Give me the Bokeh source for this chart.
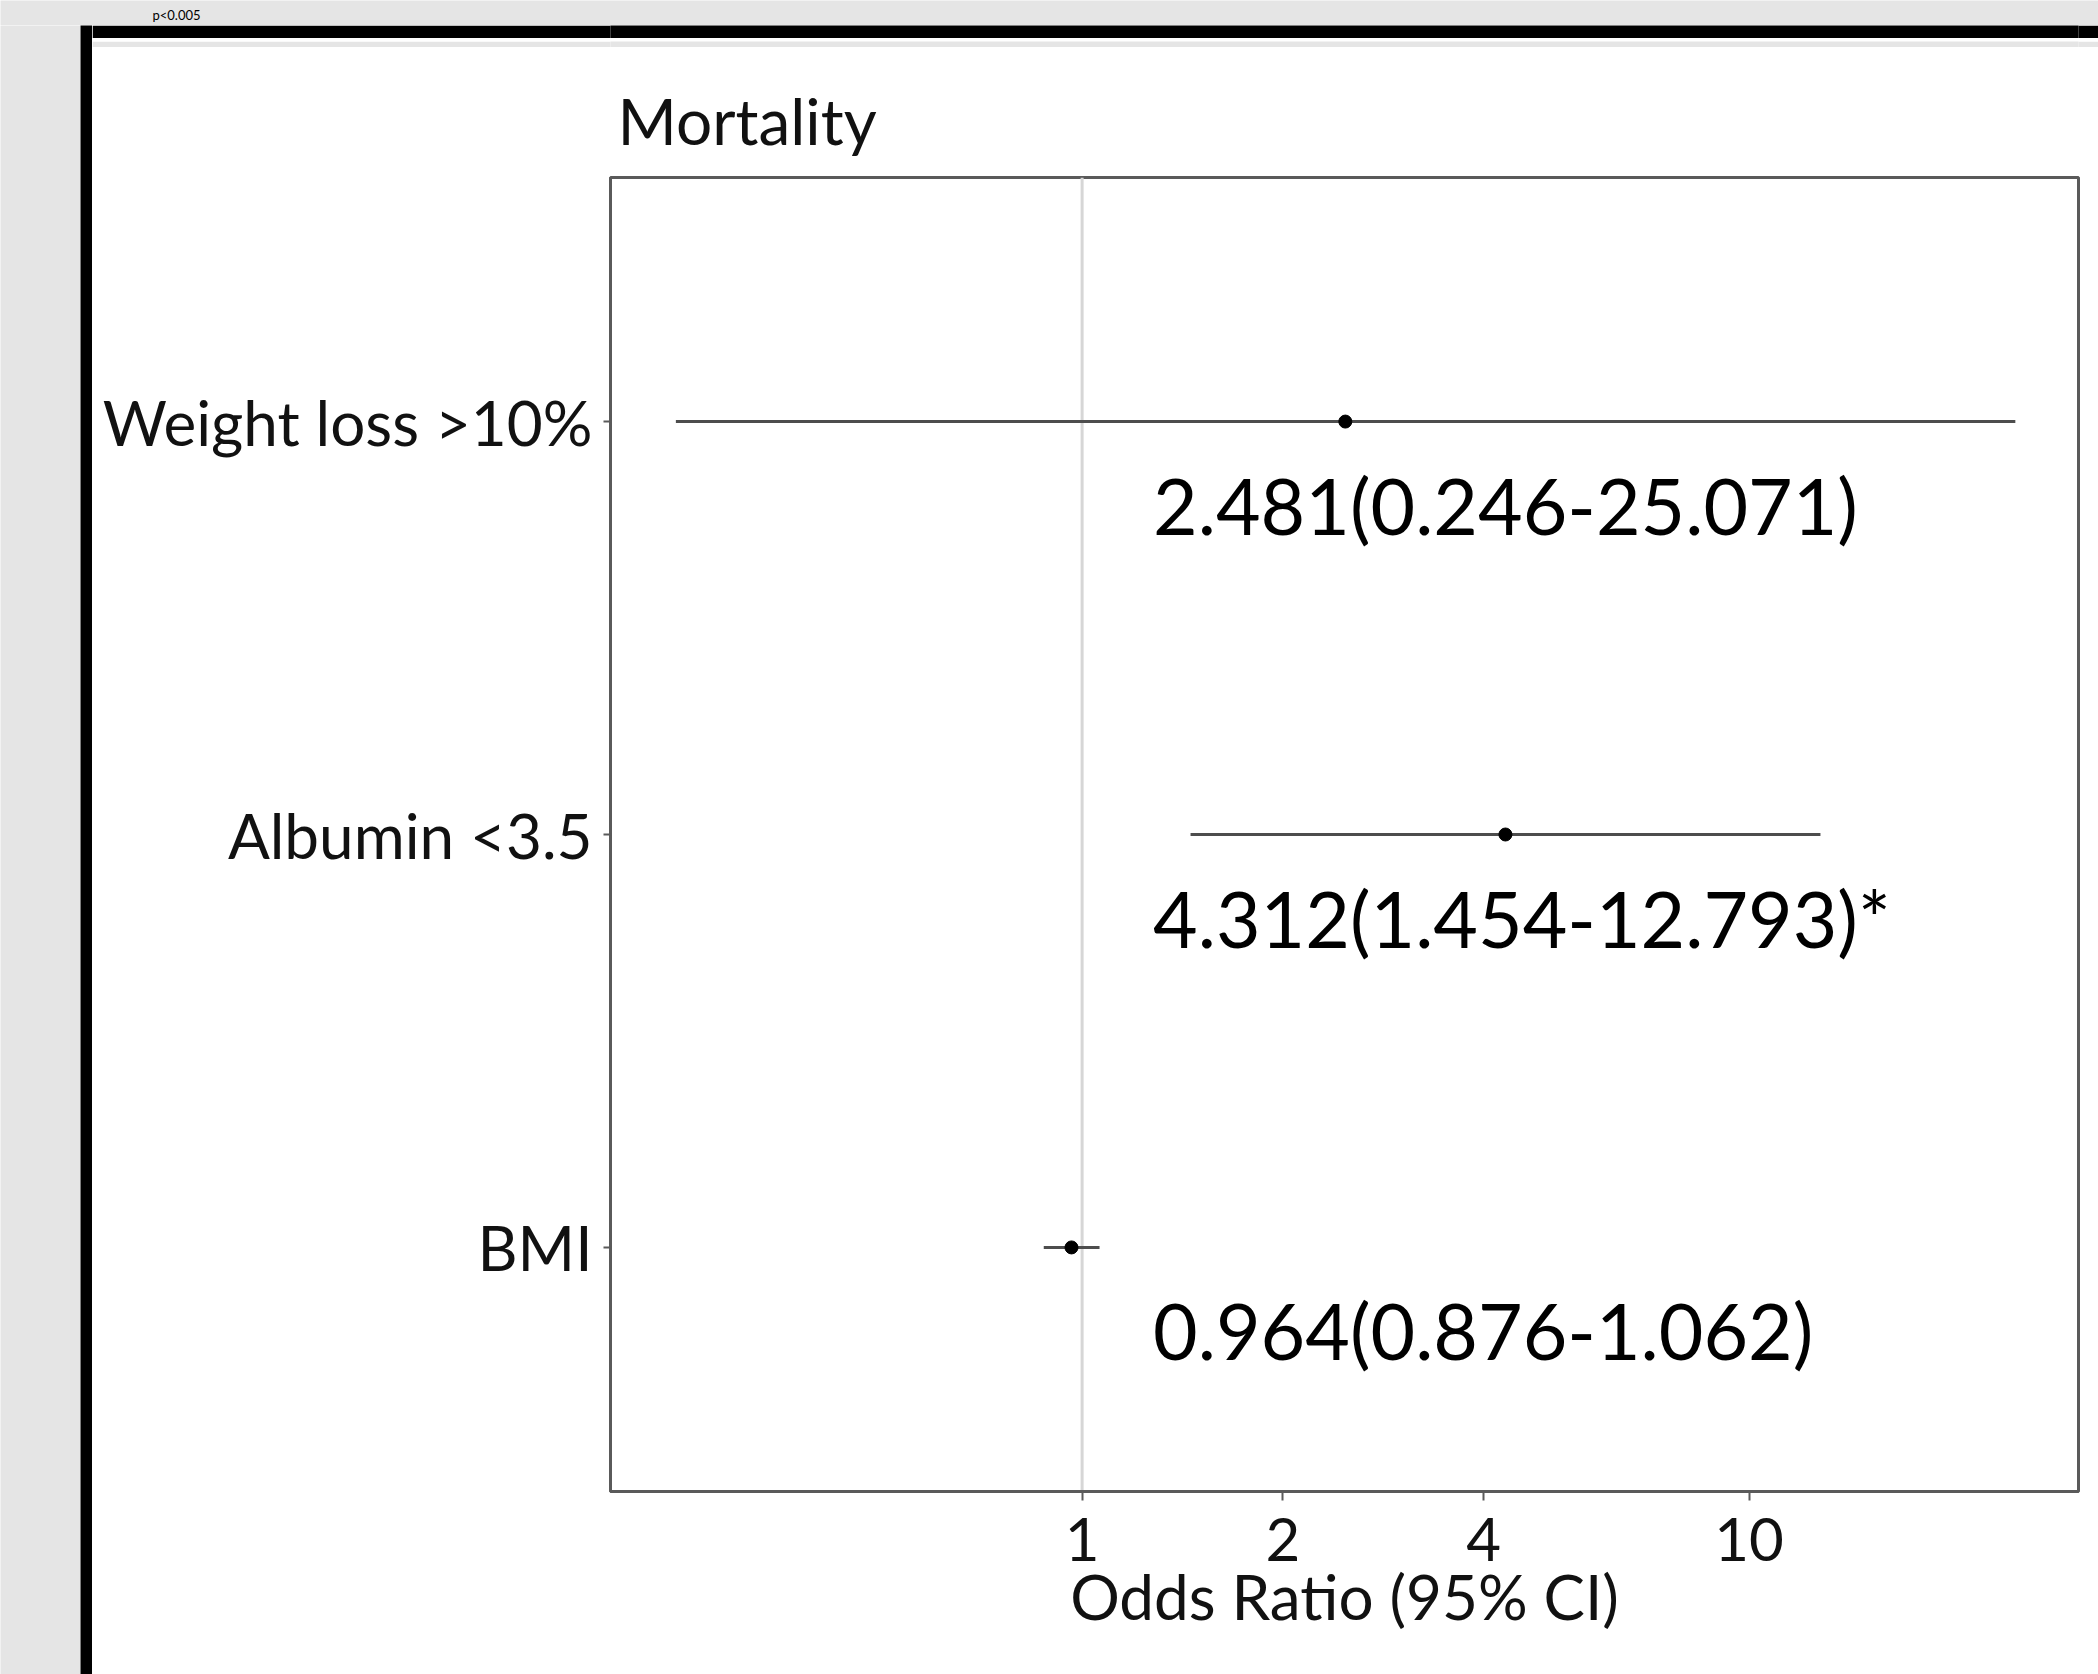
from bokeh.plotting import figure
from bokeh.layouts import column, row
from bokeh.models import (Range1d, FactorRange, FixedTicker, NumeralTickFormatter,
                          Span, Label, ColumnDataSource)
from bokeh.core.properties import value
from bokeh.embed import file_html
from bokeh.resources import INLINE

# ---------------- data ----------------
labels = ["Weight loss >10%", "Albumin <3.5", "BMI"]
odds_ratio = [2.481, 4.312, 0.964]
ci_low = [0.246, 1.454, 0.876]
ci_high = [25.071, 12.793, 1.062]
annotations = ["2.481(0.246-25.071)", "4.312(1.454-12.793)*", "0.964(0.876-1.062)"]
tick_values = [1, 2, 4, 10]
null_value = 1
panel_title = "Mortality"
x_label = "Odds Ratio (95% CI)"
header_text = "p<0.005"

GREY = "#e5e5e5"
FONT = "Lato"


def solid(w, h, color, xr=(0, 1), yr=(0, 1)):
    f = figure(width=w, height=h, x_range=Range1d(*xr), y_range=Range1d(*yr),
               min_border=0, toolbar_location=None, output_backend="svg",
               x_axis_location=None, y_axis_location=None, title=None)
    f.background_fill_color = color
    f.border_fill_color = color
    f.outline_line_color = None
    f.xgrid.visible = False
    f.ygrid.visible = False
    return f


# ---------------- slide decoration ----------------
grey_top = solid(2098, 25, GREY, (0, 2098), (0, 25))
grey_top.add_layout(Label(x=152, y=11, text=header_text, text_font=FONT,
                          text_font_size="13px", text_baseline="alphabetic",
                          text_color="black"))
grey_left = solid(80, 1649, GREY)
black_bar = solid(12, 1649, "black")
black_band = solid(2006, 13, "black")
grey_strip = solid(2006, 9, GREY)

# ---------------- main forest plot ----------------
src = ColumnDataSource(dict(label=labels, orv=odds_ratio, lo=ci_low, hi=ci_high,
                            txt=annotations, anchor=[null_value] * len(labels)))

p = figure(width=2006, height=1627, x_axis_type="log",
           x_range=Range1d(0.1963, 31.18),
           y_range=FactorRange(factors=labels[::-1], range_padding=0.0607),
           min_border_left=518, min_border_right=20, min_border_top=130, min_border_bottom=183,
           toolbar_location=None, output_backend="svg", title=panel_title)
p.background_fill_color = "white"
p.border_fill_color = "white"
p.outline_line_color = "#5a5a5a"
p.outline_line_width = 3
p.xgrid.visible = False
p.ygrid.visible = False

p.title.text_font = FONT
p.title.text_font_size = "64px"
p.title.text_font_style = "normal"
p.title.text_color = "#111111"
p.title.align = "left"
p.title.offset = 7
p.title.standoff = 38

p.add_layout(Span(location=null_value, dimension="height", line_color="#d6d6d6",
                  line_width=3, level="underlay"))

p.segment(x0="lo", y0="label", x1="hi", y1="label", source=src,
          line_color="#4d4d4d", line_width=3)
p.scatter(x="orv", y="label", source=src, size=13, fill_color="black", line_color="black")
p.text(x="anchor", y="label", text="txt", source=src, x_offset=71, y_offset=83,
       text_font=value(FONT), text_font_size="77px", text_baseline="alphabetic",
       text_align="left", text_color="black")

xa = p.xaxis[0]
xa.ticker = FixedTicker(ticks=tick_values)
xa.formatter = NumeralTickFormatter(format="0")
xa.axis_label = x_label
xa.axis_label_text_font = FONT
xa.axis_label_text_font_size = "62px"
xa.axis_label_text_font_style = "normal"
xa.axis_label_text_color = "#111111"
xa.axis_label_standoff = -5
xa.major_label_text_font = FONT
xa.major_label_text_font_size = "60px"
xa.major_label_text_color = "#111111"
xa.major_label_standoff = 17
xa.axis_line_color = "#5a5a5a"
xa.axis_line_width = 3
xa.major_tick_line_color = "#5a5a5a"
xa.major_tick_line_width = 2
xa.major_tick_out = 9
xa.major_tick_in = 0
xa.minor_tick_line_color = None

ya = p.yaxis[0]
ya.major_label_text_font = FONT
ya.major_label_text_font_size = "62px"
ya.major_label_text_color = "#111111"
ya.major_label_standoff = 11
ya.axis_line_color = "#5a5a5a"
ya.axis_line_width = 3
ya.major_tick_line_color = "#5a5a5a"
ya.major_tick_line_width = 2
ya.major_tick_out = 7
ya.major_tick_in = 0
ya.minor_tick_line_color = None

page = column(grey_top,
              row(grey_left, black_bar,
                  column(black_band, grey_strip, p, spacing=0), spacing=0),
              spacing=0)

open("out.html", "w").write(file_html(page, INLINE))
